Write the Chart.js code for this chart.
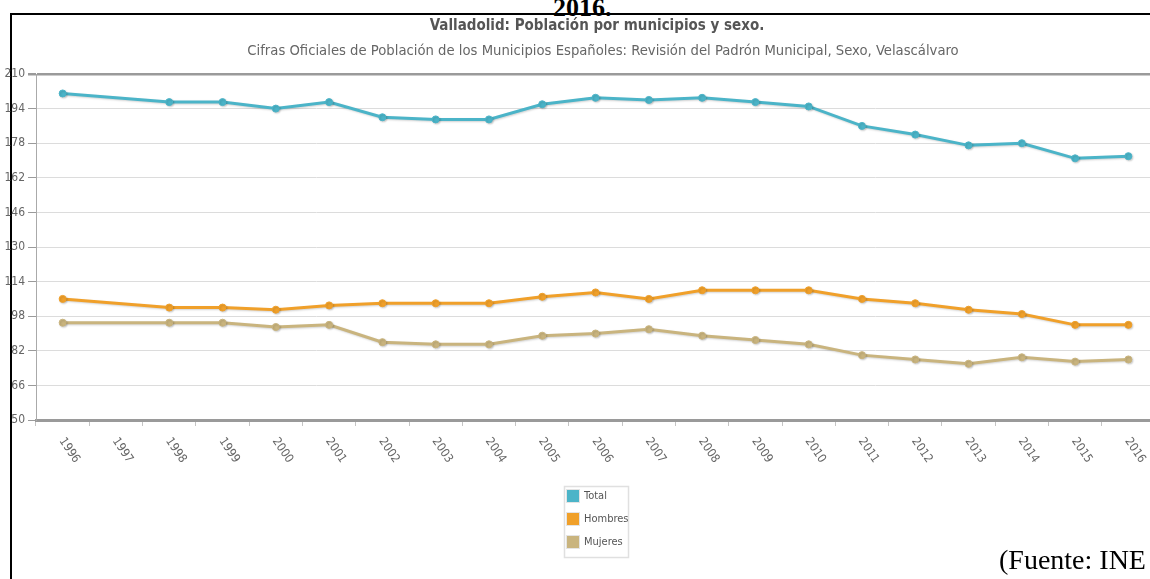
<!DOCTYPE html>
<html>
<head>
<meta charset="utf-8">
<script src="https://cdn.jsdelivr.net/npm/chart.js@4"></script>
<style>
  html, body { margin: 0; padding: 0; background: #fff; overflow: hidden; width: 1150px; height: 579px; }
  #frame { position: absolute; left: 10px; top: 13px; width: 1200px; height: 600px; border-left: 2px solid #000; border-top: 2px solid #000; pointer-events: none; }
  #wrap { position: absolute; left: 0; top: 0; width: 1200px; height: 579px; }
  #year { position: absolute; left: 553px; top: -5px; font: bold 26px/26px "Liberation Serif", "Times New Roman", serif; color: #000; }
  #source { position: absolute; left: 999px; top: 546px; font: 28px/28px "Liberation Serif", "Times New Roman", serif; color: #000; white-space: nowrap; }
</style>
</head>
<body>
<div id="frame"></div>
<div id="year">2016.</div>
<div id="wrap"><canvas id="population-chart"></canvas></div>
<div id="source">(Fuente: INE</div>
<script>
const years = ["1996", "1997", "1998", "1999", "2000", "2001", "2002", "2003", "2004", "2005", "2006",
  "2007", "2008", "2009", "2010", "2011", "2012", "2013", "2014", "2015", "2016"];
// 1997 has no figure in the padrón series, the line just skips it
const total = [201, null, 197, 197, 194, 197, 190, 189, 189, 196, 199, 198, 199, 197, 195, 186, 182, 177, 178, 171, 172];
const hombres = [106, null, 102, 102, 101, 103, 104, 104, 104, 107, 109, 106, 110, 110, 110, 106, 104, 101, 99, 94, 94];
const mujeres = [95, null, 95, 95, 93, 94, 86, 85, 85, 89, 90, 92, 89, 87, 85, 80, 78, 76, 79, 77, 78];
const yTicks = [50, 66, 82, 98, 114, 130, 146, 162, 178, 194, 210];

const titleText = "Valladolid: Población por municipios y sexo.";
const subtitleText = "Cifras Oficiales de Población de los Municipios Españoles: Revisión del Padrón Municipal, Sexo, Velascálvaro";

const narrow = '"Liberation Sans Narrow", "DejaVu Sans Condensed", sans-serif';
const condensed = '"DejaVu Sans Condensed", "Liberation Sans Narrow", sans-serif';

function line(label, data, color) {
  return {
    label, data,
    borderColor: color,
    backgroundColor: color,
    borderWidth: 3,
    pointRadius: 3.5,
    pointBorderWidth: 1,
    pointBackgroundColor: color,
    pointBorderColor: color,
    tension: 0,
    spanGaps: true
  };
}

// soft drop shadow under the lines
const lineShadow = {
  id: "lineShadow",
  beforeDatasetsDraw(chart) {
    const ctx = chart.ctx;
    ctx.save();
    ctx.shadowColor = "rgba(0,0,0,0.18)";
    ctx.shadowBlur = 2;
    ctx.shadowOffsetX = 1;
    ctx.shadowOffsetY = 1;
  },
  afterDatasetsDraw(chart) {
    chart.ctx.restore();
  }
};

// title block sits a bit right of the plot centre in the original
const headings = {
  id: "headings",
  afterDraw(chart) {
    const ctx = chart.ctx;
    ctx.save();
    ctx.textAlign = "center";
    ctx.textBaseline = "middle";
    ctx.fillStyle = "#555";
    ctx.font = "bold 15px " + narrow;
    ctx.fillText(titleText, 597, 26);
    ctx.fillStyle = "#666";
    ctx.font = "14.7px " + narrow;
    ctx.fillText(subtitleText, 603, 51);
    ctx.restore();
  }
};

// year labels hang down to the right of each point
const slantedYears = {
  id: "slantedYears",
  afterDraw(chart) {
    const ctx = chart.ctx;
    const x = chart.scales.x;
    ctx.save();
    ctx.font = "12px " + condensed;
    ctx.fillStyle = "#666";
    ctx.textAlign = "left";
    ctx.textBaseline = "middle";
    years.forEach((lab, i) => {
      const px = x.getPixelForValue(i);
      ctx.save();
      ctx.translate(px - 1, x.top + 19);
      ctx.rotate(56 * Math.PI / 180);
      ctx.fillText(lab, 0, 0);
      ctx.restore();
    });
    ctx.restore();
  }
};

// small boxed legend stacked vertically under the axis
const stackedLegend = {
  id: "stackedLegend",
  afterDraw(chart) {
    const ctx = chart.ctx;
    const area = chart.chartArea;
    const sets = chart.data.datasets;
    const w = 64, rowH = 23;
    const left = Math.round((area.left + area.right) / 2 - w / 2);
    const top = Math.round(area.bottom + 66);
    ctx.save();
    ctx.strokeStyle = "#e0e0e0";
    ctx.lineWidth = 1.5;
    ctx.strokeRect(left + 0.5, top + 0.5, w, rowH * sets.length + 2);
    ctx.font = "11px " + condensed;
    ctx.textBaseline = "middle";
    sets.forEach((ds, i) => {
      const y = top + 4 + i * rowH;
      ctx.fillStyle = ds.borderColor;
      ctx.fillRect(left + 3, y, 12, 12);
      ctx.strokeStyle = "#e4e4e4";
      ctx.lineWidth = 1;
      ctx.strokeRect(left + 2.5, y - 0.5, 13, 13);
      ctx.fillStyle = "#555";
      ctx.fillText(ds.label, left + 20, y + 6);
    });
    ctx.restore();
  }
};

new Chart(document.getElementById("population-chart"), {
  type: "line",
  data: {
    labels: years,
    datasets: [
      line("Total", total, "#4bb4c8"),
      line("Hombres", hombres, "#f0a02a"),
      line("Mujeres", mujeres, "#c9b47e")
    ]
  },
  options: {
    responsive: true,
    maintainAspectRatio: false,
    animation: false,
    layout: { padding: { top: 74, left: 0, right: 45, bottom: 153 } },
    plugins: {
      legend: { display: false },
      tooltip: { enabled: false },
      title: { display: false }
    },
    scales: {
      x: {
        offset: true,
        ticks: { display: false },
        grid: { drawOnChartArea: false, drawTicks: true, tickLength: 6, tickColor: "#c4c4c4", offset: true },
        border: { color: "#9a9a9a", width: 3 }
      },
      y: {
        min: yTicks[0],
        max: yTicks[yTicks.length - 1],
        afterBuildTicks: s => { s.ticks = yTicks.map(v => ({ value: v })); },
        afterFit: s => { s.width = 36; },
        ticks: { color: "#666", font: { family: narrow, size: 12 }, padding: 3 },
        grid: {
          color: c => (c.tick && c.tick.value === 210 ? "#9a9a9a" : "#dcdcdc"),
          lineWidth: c => (c.tick && c.tick.value === 210 ? 2.5 : 1),
          tickColor: "#9a9a9a",
          tickLength: 8
        },
        border: { color: "#aaa", width: 1 }
      }
    }
  },
  plugins: [lineShadow, headings, slantedYears, stackedLegend]
});
</script>
</body>
</html>
